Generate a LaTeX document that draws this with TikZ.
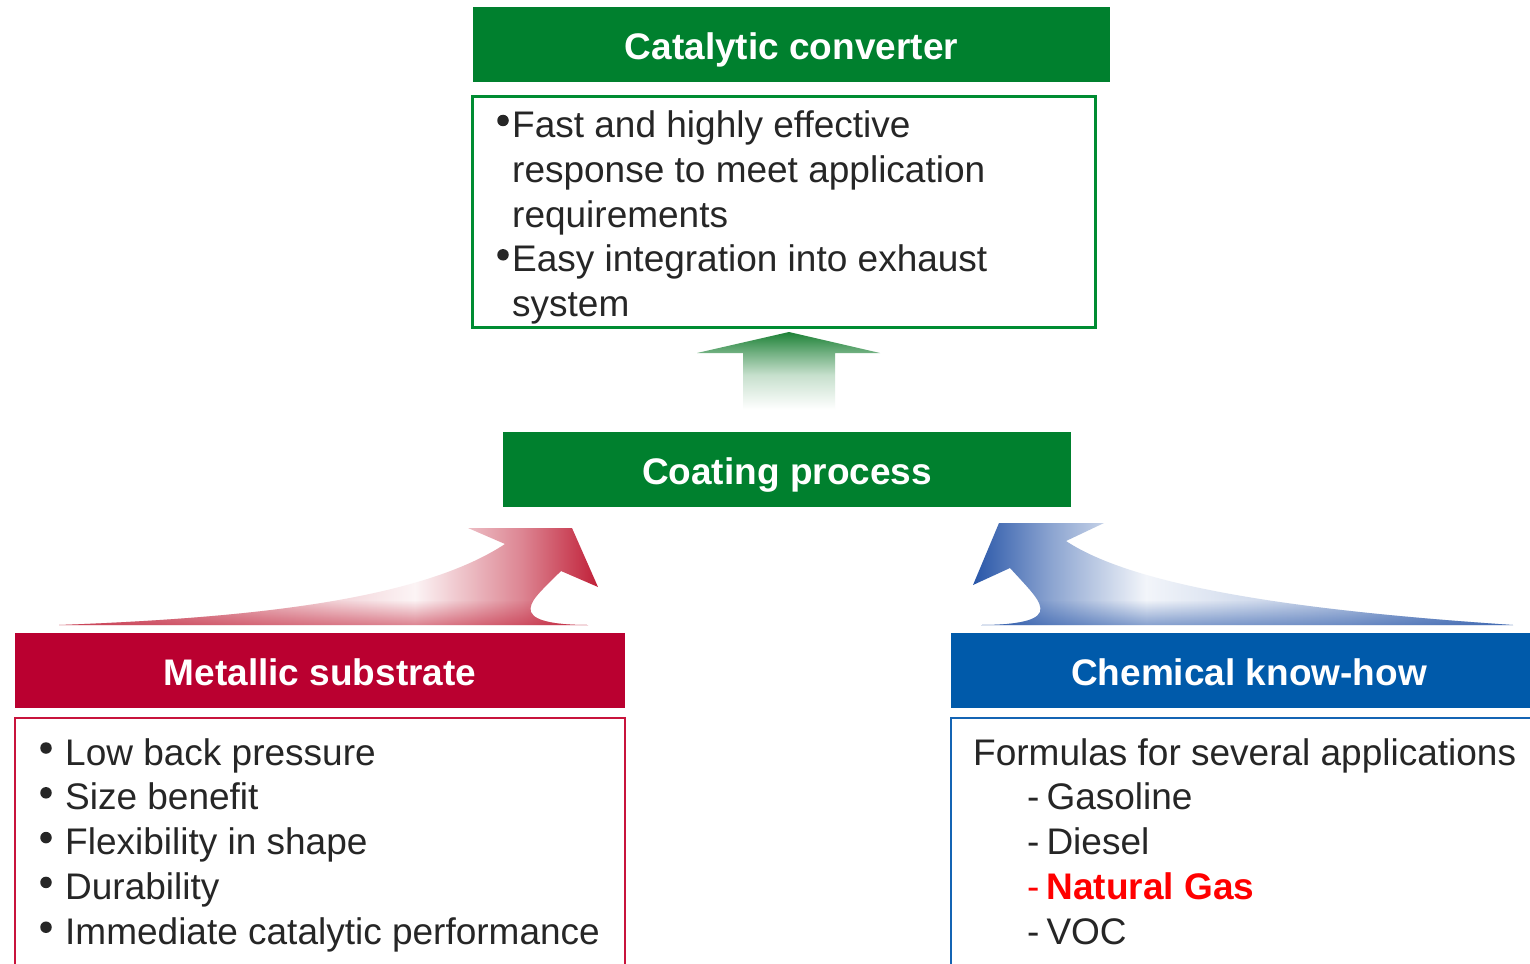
\documentclass[tikz,border=0pt]{standalone}
\usepackage{fontspec}
\setmainfont{Liberation Sans}
\usetikzlibrary{fadings}
\definecolor{txt}{RGB}{38,38,38}
\definecolor{cgreen}{RGB}{0,128,46}
\definecolor{bgreen}{RGB}{0,140,50}
\definecolor{cred}{RGB}{186,0,48}
\definecolor{bred}{RGB}{200,20,60}
\definecolor{cblue}{RGB}{0,90,170}
\definecolor{bblue}{RGB}{20,100,180}
\definecolor{arred}{RGB}{192,32,56}
\definecolor{arblue}{RGB}{40,86,168}
\definecolor{argreen}{RGB}{30,130,55}
\pgfdeclarehorizontalshading{redsh}{100bp}{color(0bp)=(arred!70); color(25bp)=(arred!70); color(45bp)=(arred!30); color(58bp)=(arred!5); color(68bp)=(arred!55); color(75bp)=(arred); color(100bp)=(arred)}
\pgfdeclarehorizontalshading{bluesh}{100bp}{color(0bp)=(arblue); color(25bp)=(arblue); color(32bp)=(arblue!55); color(41bp)=(arblue!6); color(60bp)=(arblue!35); color(75bp)=(arblue!75); color(100bp)=(arblue!75)}
\pgfdeclareverticalshading{greensh}{100bp}{color(0bp)=(white); color(25bp)=(white); color(30bp)=(white); color(50bp)=(argreen!25); color(62bp)=(argreen!60); color(75bp)=(argreen); color(100bp)=(argreen)}
\tikzfading[name=band, top color=transparent!100, bottom color=transparent!45]
\begin{document}
\begin{tikzpicture}[x=1pt,y=-1pt,
  hdr/.style={rectangle, inner sep=0pt, text height=30pt, text depth=0pt, minimum height=75pt, text=white, font=\fontsize{37}{44}\selectfont\bfseries},
  body/.style={anchor=base west, inner sep=0pt, text=txt, font=\fontsize{37}{44.8}\selectfont},
  dot/.style={circle, fill=txt, inner sep=0pt, minimum size=11.5pt}]
\useasboundingbox (0,0) rectangle (1530,963);
\fill[white] (0,0) rectangle (1530,963);

% top
\node[hdr, fill=cgreen, minimum width=637pt] (cat) at (791.5,44.5) {Catalytic converter};
\node[draw=bgreen, line width=3pt, minimum width=623pt, minimum height=230pt, inner sep=0pt] (catbox) at (783.5,212) {};
\node[body] (c1) at (512,137.5) {Fast and highly effective};
\node[body] (c2) at (512,182.3) {response to meet application};
\node[body] (c3) at (512,227) {requirements};
\node[body] (c4) at (512,271.8) {Easy integration into exhaust};
\node[body] (c5) at (512,316.6) {system};
\node[dot] (cd1) at (503,120.5) {};
\node[dot] (cd4) at (503,254.8) {};

% green arrow
\shade[shading=greensh] (789,332) -- (880,353) -- (835,353) -- (835,418) -- (743,418) -- (743,353) -- (697,353) -- cycle;

\node[hdr, fill=cgreen, minimum width=568pt] (coat) at (787,469.5) {Coating process};

% red arrow
\def\redpath{(59,625) .. controls (250,618) and (420,600) .. (505,544) -- (468,528) -- (572,528) -- (598,587) -- (561,571)
  .. controls (540,592) and (528,602) .. (531,612) .. controls (535,622) and (560,625) .. (588,625) -- cycle}
\shade[shading=redsh] \redpath;
\begin{scope}
  \clip \redpath;
  \fill[arred, path fading=band, fit fading=true] (50,600) rectangle (600,626);
\end{scope}

% blue arrow
\def\bluepath{(1513,625) .. controls (1320,612) and (1140,590) .. (1066,541) -- (1104,523) -- (999,523) -- (973,585) -- (1010,568)
  .. controls (1030,590) and (1043,602) .. (1040,612) .. controls (1036,622) and (1010,625) .. (981,625) -- cycle}
\shade[shading=bluesh] \bluepath;
\begin{scope}
  \clip \bluepath;
  \fill[arblue, path fading=band, fit fading=true] (970,600) rectangle (1520,626);
\end{scope}

% left
\node[hdr, fill=cred, minimum width=610pt] (met) at (320,670.5) {Metallic substrate};
\draw[bred, line width=2.5pt] (15,975) -- (15,718) -- (625,718) -- (625,975);
\foreach \t [count=\i from 0] in {Low back pressure, Size benefit, Flexibility in shape, Durability, Immediate catalytic performance} {
  \node[body] (m\i) at (65,{765+44.8*\i}) {\t};
  \node[dot] (md\i) at (46,{748+44.8*\i}) {};
}

% right
\node[hdr, fill=cblue, minimum width=596pt] (chem) at (1249,670.5) {Chemical know-how};
\draw[bblue, line width=2.5pt] (1540,718) -- (951,718) -- (951,975);
\node[body] (f0) at (973,765) {Formulas for several applications};
\node[body] (f1) at (1027,809.8) {-\hspace{7pt}Gasoline};
\node[body] (f2) at (1027,854.6) {-\hspace{7pt}Diesel};
\node[body, text=red] (f3) at (1027,899.4) {-\hspace{7pt}\textbf{Natural Gas}};
\node[body] (f4) at (1027,944.2) {-\hspace{7pt}VOC};
\end{tikzpicture}
\end{document}
